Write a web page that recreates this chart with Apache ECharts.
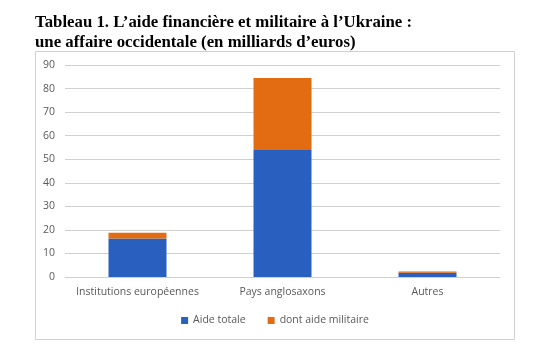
<!DOCTYPE html>
<html><head><meta charset="utf-8">
<script src="https://cdn.jsdelivr.net/npm/echarts@6/dist/echarts.min.js"></script>
<style>html,body{margin:0;padding:0;background:#fff}#c{width:550px;height:359px}</style>
</head><body><div id="c"></div>
<script>
const categories = ['Institutions européennes', 'Pays anglosaxons', 'Autres'];
const aideTotale = [16.3, 53.9, 1.8];
const aideMilitaire = [2.5, 30.6, 0.5];
const seriesNames = ['Aide totale', 'dont aide militaire'];
const titleLines = ['Tableau 1. L\u2019aide financière et militaire à l\u2019Ukraine :', 'une affaire occidentale (en milliards d\u2019euros)'];

const chart = echarts.init(document.getElementById('c'));
const lab = {color:'#595959', fontFamily:'Open Sans', fontSize:10.5};
chart.setOption({
  animation:false,
  graphic:[
    {type:'rect', shape:{x:35.5, y:51.5, width:479, height:288}, style:{fill:'none', stroke:'#d0d0d0', lineWidth:1}, z:-1},
    {type:'text', left:35, top:13, style:{text:titleLines.join('\n'), font:'bold 16.8px "Liberation Serif"', lineHeight:20, fill:'#000'}}
  ],
  grid:{left:65, right:50, top:65, bottom:82},
  legend:{bottom:28, left:'center', itemWidth:7, itemHeight:7, itemGap:22, icon:'rect',
    textStyle:lab, data:seriesNames},
  xAxis:{type:'category', data:categories, axisTick:{show:false},
    axisLine:{lineStyle:{color:'#d0d0d0'}}, axisLabel:Object.assign({margin:10, interval:0}, lab)},
  yAxis:{type:'value', min:0, max:90, interval:10, axisLine:{show:false}, axisTick:{show:false},
    splitLine:{lineStyle:{color:'#d0d0d0'}}, axisLabel:Object.assign({margin:10}, lab)},
  series:[
    {name:seriesNames[0], type:'bar', stack:'a', data:aideTotale, barWidth:'40%', itemStyle:{color:'#2960c0'}},
    {name:seriesNames[1], type:'bar', stack:'a', data:aideMilitaire, barWidth:'40%', itemStyle:{color:'#e36c12'}}
  ]
});
</script></body></html>
